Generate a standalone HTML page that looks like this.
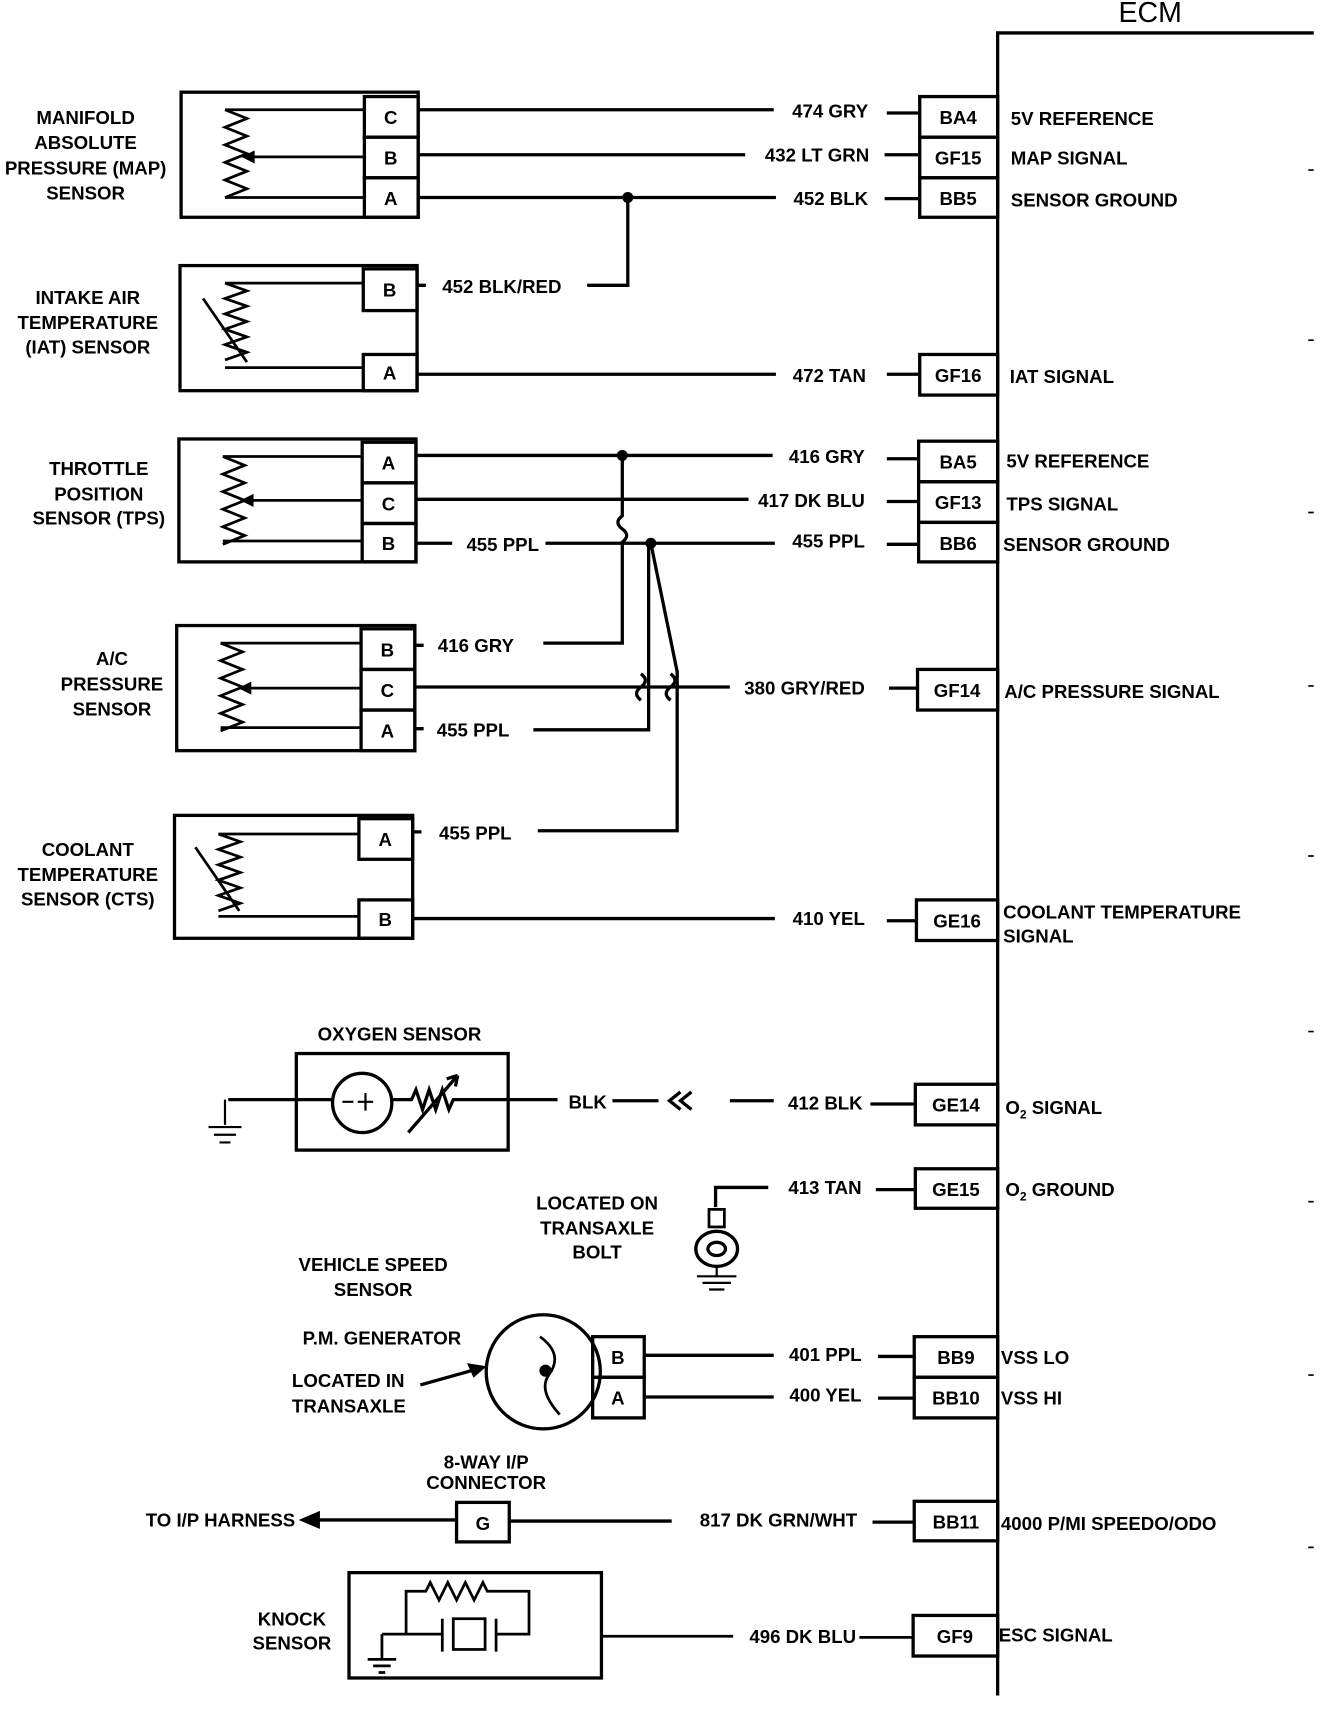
<!DOCTYPE html>
<html><head><meta charset="utf-8"><style>
html,body{margin:0;padding:0;background:#fff}
svg{display:block}
text{font-family:"Liberation Sans",sans-serif;font-weight:bold;font-size:17px;fill:#000}
</style></head><body>
<svg width="1328" height="1712" viewBox="0 0 1210 1560" preserveAspectRatio="none" xmlns="http://www.w3.org/2000/svg">
<g fill="none" stroke="#000" stroke-width="3">
<path d="M909 1545 V30 H1197"/>
<path d="M1192 155h5M1192 310h5M1192 467h5M1192 625h5M1192 780h5M1192 940h5M1192 1095h5M1192 1253h5M1192 1410h5" stroke-width="1.5"/>
<rect x="838" y="88" width="71" height="37"/><rect x="838" y="125" width="71" height="37"/><rect x="838" y="162" width="71" height="36"/>
<rect x="838" y="323" width="71" height="37"/>
<rect x="837" y="402" width="72" height="37"/><rect x="837" y="439" width="72" height="37"/><rect x="837" y="476" width="72" height="36"/>
<rect x="836" y="610" width="73" height="37"/>
<rect x="835" y="820" width="74" height="37"/>
<rect x="834" y="988" width="75" height="37"/>
<rect x="834" y="1065" width="75" height="36"/>
<rect x="833" y="1218" width="76" height="37"/><rect x="833" y="1255" width="76" height="37"/>
<rect x="833" y="1368" width="76" height="36"/>
<rect x="832" y="1472" width="77" height="37"/>
<!-- MAP -->
<rect x="165" y="84" width="216" height="114"/>
<rect x="332" y="88" width="49" height="37"/><rect x="332" y="125" width="49" height="37"/><rect x="332" y="162" width="49" height="36"/>
<path d="M205 100H332M205 100l20 8-20 8 20 8-20 8 20 8-20 8 20 8-20 8 20 8-20 8M205 180H332M228 143H332" stroke-width="2.5"/>
<!-- IAT -->
<rect x="164" y="242" width="216" height="114"/>
<rect x="331" y="245" width="49" height="38"/><rect x="331" y="323" width="49" height="33"/>
<path d="M205 258H331M205 258l20 7-20 7 20 7-20 7 20 7-20 7 20 7-20 7 20 7-20 7M205 335H331M185 272l40 58" stroke-width="2.5"/>
<!-- TPS -->
<rect x="163" y="400" width="216" height="112"/>
<rect x="330" y="403" width="49" height="37"/><rect x="330" y="440" width="49" height="37"/><rect x="330" y="477" width="49" height="35"/>
<path d="M203 416H330M203 416l20 8-20 8 20 8-20 8 20 8-20 8 20 8-20 8 20 8-20 8M203 493H330M227 456H330" stroke-width="2.5"/>
<!-- A/C -->
<rect x="161" y="570" width="217" height="114"/>
<rect x="329" y="573" width="49" height="37"/><rect x="329" y="610" width="49" height="37"/><rect x="329" y="647" width="49" height="37"/>
<path d="M201 586H329M201 586l20 8-20 8 20 8-20 8 20 8-20 8 20 8-20 8 20 8-20 8M201 663H329M225 627H329" stroke-width="2.5"/>
<!-- CTS -->
<rect x="159" y="743" width="217" height="112"/>
<rect x="327" y="746" width="49" height="37"/><rect x="327" y="820" width="49" height="35"/>
<path d="M199 760H327M199 760l20 7-20 7 20 7-20 7 20 7-20 7 20 7-20 7 20 7-20 7M199 835H327M178 772l40 58" stroke-width="2.5"/>
<!-- wires -->
<path d="M381 100H705M808 103H838M381 141H679M806 141H838M381 180H707M806 181H838M572 180V260H535M380 260h8M381 341H707M808 341H838"/>
<path d="M379 415H704M808 418H837M379 455H682M808 457H837M379 495H412M497 495H706M808 496H837"/>
<path d="M567 415V470q-8 6 0 12t0 12V586H495M378 588h8"/>
<path d="M378 626H584q-8 6 0 12M584 614q8 6 0 12M584 626H611M611 614q8 6 0 12t0 12M611 626H665M810 627H836"/>
<path d="M378 664h8M486 665H591V495M593 495L617 612V757H490"/>
<path d="M376 758h8M376 837H706M808 839H835"/>
<!-- oxygen -->
<rect x="270" y="960" width="193" height="88"/>
<circle cx="330" cy="1005" r="27"/>
<path d="M208 1002H303M357 1002h18l4-9 6 18 6-18 6 18 6-18 6 18 4-9H463M372 1032l45-52M417 980l-10 3M417 980l-2 10M463 1002H508M558 1003H600M665 1003H705M793 1006H834M620 995l-10 8 10 8M630 995l-10 8 10 8"/>
<path d="M205 1002V1025M190 1027h30M195 1034h20M200 1041h10" stroke-width="2"/>
<path d="M312 1004h10M333 996v16M326 1004h14" stroke-width="2"/>
<!-- O2 ground -->
<path d="M652 1100V1082H700M798 1084H834"/>
<rect x="646" y="1102" width="14" height="16" stroke-width="2.5"/>
<ellipse cx="653" cy="1138" rx="19" ry="16"/><ellipse cx="653" cy="1138" rx="8" ry="6"/>
<path d="M653 1154v8M635 1163h36M640 1169h26M646 1175h14" stroke-width="2"/>
<!-- VSS -->
<circle cx="495" cy="1250" r="52"/>
<rect x="540" y="1218" width="47" height="37"/><rect x="540" y="1255" width="47" height="37"/>
<path d="M492 1218q22 16 8 35-10 14 10 36" stroke-width="2.5"/>
<circle cx="497" cy="1249" r="4" fill="#000"/>
<path d="M587 1235H705M800 1236H833M587 1273H705M800 1274H833M383 1262L440 1246"/>
<path d="M440 1246l-12 -2 4 9z" fill="#000"/>
<!-- I/P -->
<rect x="416" y="1369" width="48" height="36"/>
<path d="M283 1385H416M464 1386H612M795 1387H833"/>
<path d="M276 1385l14-6v12z" fill="#000"/>
<!-- knock -->
<rect x="318" y="1433" width="230" height="96"/>
<path d="M370 1489V1450H388l4-8 8 16 8-16 8 16 8-16 8 16 8-16 4 8H482V1489H452M370 1489H403M403 1475v30M452 1475v30M348 1489h22M348 1489v22M335 1512h26M340 1518h16M345 1524h6M548 1491H668M783 1492H832" stroke-width="2.5"/>
<rect x="413" y="1475" width="29" height="28" stroke-width="2.5"/>
</g>
<g fill="#000" stroke="none">
<circle cx="572" cy="180" r="5"/><circle cx="567" cy="415" r="5"/><circle cx="593" cy="495" r="5"/>
<path d="M220 143l12-6v12z"/><path d="M219 456l12-6v12z"/><path d="M217 627l12-6v12z"/>
</g>
<text x="1048" y="20" text-anchor="middle" style="font-weight:normal;font-size:26px">ECM</text>
<g text-anchor="middle">
<text x="356" y="113">C</text><text x="356" y="150">B</text><text x="356" y="187">A</text>
<text x="355" y="270">B</text><text x="355" y="346">A</text>
<text x="354" y="428">A</text><text x="354" y="465">C</text><text x="354" y="501">B</text>
<text x="353" y="598">B</text><text x="353" y="635">C</text><text x="353" y="672">A</text>
<text x="351" y="771">A</text><text x="351" y="844">B</text>
<text x="563" y="1243">B</text><text x="563" y="1280">A</text>
<text x="440" y="1394">G</text>
<text x="873" y="113">BA4</text><text x="873" y="150">GF15</text><text x="873" y="187">BB5</text>
<text x="873" y="348">GF16</text>
<text x="873" y="427">BA5</text><text x="873" y="464">GF13</text><text x="873" y="501">BB6</text>
<text x="872" y="635">GF14</text><text x="872" y="845">GE16</text><text x="871" y="1013">GE14</text>
<text x="871" y="1090">GE15</text><text x="871" y="1243">BB9</text><text x="871" y="1280">BB10</text>
<text x="871" y="1393">BB11</text><text x="870" y="1497">GF9</text>
<text x="78" y="113">MANIFOLD</text><text x="78" y="136">ABSOLUTE</text><text x="78" y="159">PRESSURE (MAP)</text><text x="78" y="182">SENSOR</text>
<text x="80" y="277">INTAKE AIR</text><text x="80" y="300">TEMPERATURE</text><text x="80" y="322">(IAT) SENSOR</text>
<text x="90" y="433">THROTTLE</text><text x="90" y="456">POSITION</text><text x="90" y="478">SENSOR (TPS)</text>
<text x="102" y="606">A/C</text><text x="102" y="629">PRESSURE</text><text x="102" y="652">SENSOR</text>
<text x="80" y="780">COOLANT</text><text x="80" y="803">TEMPERATURE</text><text x="80" y="825">SENSOR (CTS)</text>
<text x="364" y="948">OXYGEN SENSOR</text>
<text x="544" y="1102">LOCATED ON</text><text x="544" y="1125">TRANSAXLE</text><text x="544" y="1147">BOLT</text>
<text x="340" y="1158">VEHICLE SPEED</text><text x="340" y="1181">SENSOR</text>
<text x="348" y="1225">P.M. GENERATOR</text>
<text x="443" y="1338">8-WAY I/P</text><text x="443" y="1357">CONNECTOR</text>
<text x="266" y="1481">KNOCK</text><text x="266" y="1503">SENSOR</text>
</g>
<g text-anchor="end">
<text x="791" y="107">474 GRY</text><text x="792" y="147">432 LT GRN</text><text x="791" y="187">452 BLK</text>
<text x="789" y="348">472 TAN</text><text x="788" y="422">416 GRY</text><text x="788" y="462">417 DK BLU</text><text x="788" y="499">455 PPL</text>
<text x="788" y="633">380 GRY/RED</text><text x="788" y="843">410 YEL</text><text x="786" y="1011">412 BLK</text>
<text x="785" y="1088">413 TAN</text><text x="785" y="1240">401 PPL</text><text x="785" y="1277">400 YEL</text>
<text x="781" y="1391">817 DK GRN/WHT</text><text x="780" y="1497">496 DK BLU</text>
<text x="269" y="1391">TO I/P HARNESS</text>
</g>
<text x="403" y="267">452 BLK/RED</text>
<text x="425" y="502">455 PPL</text>
<text x="399" y="594">416 GRY</text>
<text x="398" y="671">455 PPL</text>
<text x="400" y="765">455 PPL</text>
<text x="518" y="1010">BLK</text>
<text x="266" y="1264">LOCATED IN</text><text x="266" y="1287">TRANSAXLE</text>
<g>
<text x="921" y="114">5V REFERENCE</text><text x="921" y="150">MAP SIGNAL</text><text x="921" y="188">SENSOR GROUND</text>
<text x="920" y="349">IAT SIGNAL</text>
<text x="917" y="426">5V REFERENCE</text><text x="917" y="465">TPS SIGNAL</text><text x="914" y="502">SENSOR GROUND</text>
<text x="915" y="636">A/C PRESSURE SIGNAL</text>
<text x="914" y="837">COOLANT TEMPERATURE</text><text x="914" y="859">SIGNAL</text>
<text x="916" y="1015">O<tspan font-size="11" dy="4">2</tspan><tspan dy="-4"> SIGNAL</tspan></text>
<text x="916" y="1090">O<tspan font-size="11" dy="4">2</tspan><tspan dy="-4"> GROUND</tspan></text>
<text x="912" y="1243">VSS LO</text><text x="912" y="1280">VSS HI</text>
<text x="912" y="1394">4000 P/MI  SPEEDO/ODO</text>
<text x="910" y="1496">ESC SIGNAL</text>
</g>
</svg>
</body></html>
